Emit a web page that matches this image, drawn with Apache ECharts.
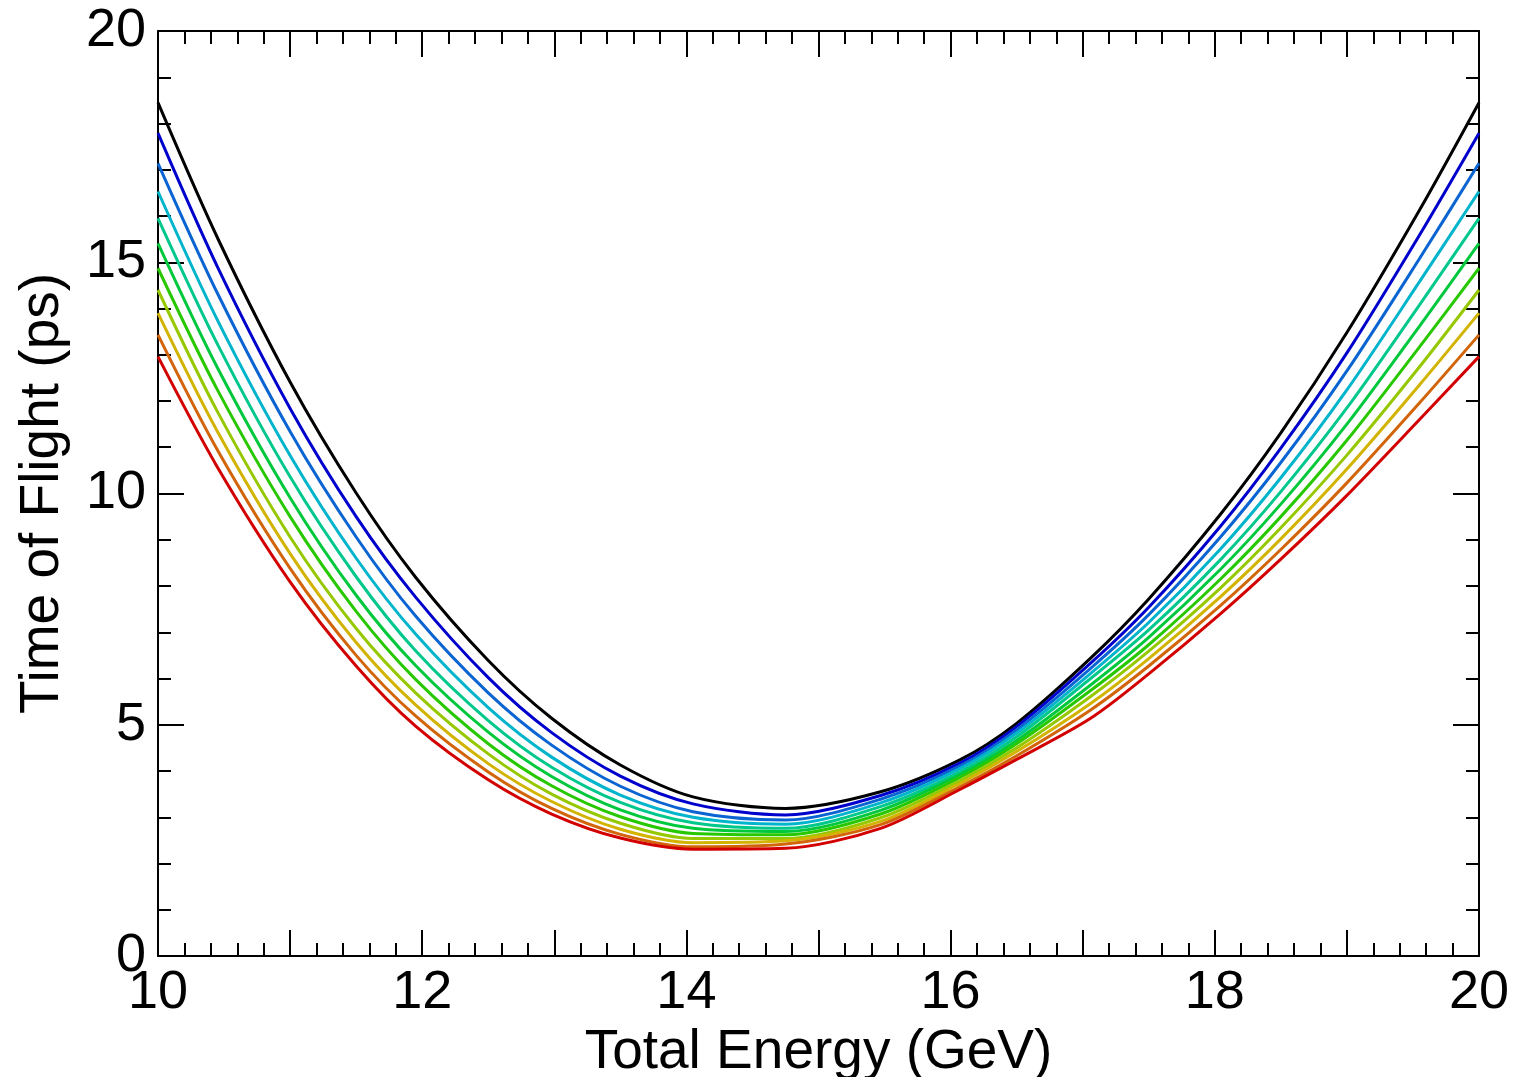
<!DOCTYPE html>
<html>
<head>
<meta charset="UTF-8">
<title>Time of Flight</title>
<script src="https://cdn.jsdelivr.net/npm/echarts@6/dist/echarts.min.js"></script>
<style>
  html, body { margin: 0; padding: 0; background: #fff; }
</style>
</head>
<body>
<div id="main" style="width: 1515px;height:1077px;"></div>
<script type="text/javascript">
var energy = [10, 10.45, 11, 11.5, 11.95, 12.5, 12.98, 13.5, 14.05, 14.75, 15.47, 16.07, 16.5, 17.06, 17.5, 18.04, 18.5, 19, 19.55, 20];

// time of flight (ps), one list per curve, top (black) to bottom (red)
var tofBlack  = [18.45, 15.53, 12.41, 10.01, 8.19, 6.39, 5.14, 4.13, 3.44, 3.19, 3.55, 4.24, 5.03, 6.44, 7.72, 9.54, 11.31, 13.48, 16.13, 18.45];
var tofBlue   = [17.79, 14.90, 11.84,  9.50, 7.76, 6.02, 4.83, 3.89, 3.29, 3.05, 3.47, 4.17, 4.96, 6.33, 7.54, 9.28, 10.98, 13.04, 15.59, 17.79];
var tofAzure  = [17.14, 14.33, 11.34,  9.06, 7.35, 5.69, 4.56, 3.67, 3.12, 2.94, 3.39, 4.11, 4.89, 6.22, 7.38, 9.05, 10.67, 12.65, 15.08, 17.14];
var tofCyan   = [16.53, 13.75, 10.82,  8.60, 6.96, 5.37, 4.30, 3.48, 3.00, 2.85, 3.31, 4.05, 4.82, 6.11, 7.21, 8.79, 10.34, 12.24, 14.58, 16.53];
var tofTeal   = [15.95, 13.23, 10.36,  8.20, 6.60, 5.09, 4.08, 3.32, 2.88, 2.76, 3.23, 3.98, 4.74, 6.00, 7.05, 8.56, 10.04, 11.85, 14.08, 15.95];
var tofGreen  = [15.41, 12.72,  9.91,  7.80, 6.28, 4.84, 3.88, 3.16, 2.76, 2.69, 3.15, 3.92, 4.66, 5.86, 6.89, 8.35,  9.77, 11.50, 13.62, 15.41];
var tofLime   = [14.87, 12.24,  9.50,  7.45, 5.98, 4.59, 3.68, 3.01, 2.65, 2.62, 3.07, 3.86, 4.59, 5.74, 6.73, 8.14,  9.50, 11.15, 13.17, 14.87];
var tofOlive  = [14.40, 11.77,  9.06,  7.08, 5.69, 4.37, 3.50, 2.87, 2.54, 2.54, 2.99, 3.79, 4.50, 5.61, 6.59, 7.95,  9.26, 10.83, 12.74, 14.40];
var tofYellow = [13.90, 11.34,  8.70,  6.78, 5.43, 4.16, 3.34, 2.74, 2.45, 2.49, 2.91, 3.73, 4.42, 5.46, 6.43, 7.76,  9.02, 10.53, 12.35, 13.90];
var tofOrange = [13.43, 10.94,  8.38,  6.50, 5.19, 3.98, 3.19, 2.63, 2.36, 2.42, 2.84, 3.66, 4.33, 5.32, 6.27, 7.57,  8.79, 10.23, 11.96, 13.43];
var tofRed    = [12.96, 10.57,  8.09,  6.27, 4.97, 3.81, 3.07, 2.55, 2.31, 2.33, 2.76, 3.60, 4.25, 5.14, 6.10, 7.39,  8.58,  9.96, 11.60, 12.96];

var curves = [tofBlack, tofBlue, tofAzure, tofCyan, tofTeal, tofGreen, tofLime, tofOlive, tofYellow, tofOrange, tofRed];
var colors = ['#000000', '#0000cc', '#0a64d2', '#00b4cc', '#00c88c', '#00c83c', '#28c800', '#96c800', '#d2b400', '#d2640a', '#d20000'];

var fontName = 'Liberation Sans, Arial, sans-serif';
var black = '#000';

function pairs(ys) {
    return energy.map(function (x, i) { return [x, ys[i]]; });
}

function boxAxis(pos, min, max, interval, isX, labelled) {
    return {
        type: 'value',
        position: pos,
        min: min,
        max: max,
        interval: interval,
        splitLine: { show: false },
        axisLine: { show: true, onZero: false, lineStyle: { color: black, width: 2 } },
        axisTick: { show: true, inside: true, length: 26, lineStyle: { color: black, width: 2 } },
        minorTick: { show: true, splitNumber: 5, length: 13, lineStyle: { color: black, width: 2 } },
        minorSplitLine: { show: false },
        axisLabel: {
            show: labelled,
            color: black,
            fontSize: 54,
            fontFamily: fontName,
            margin: isX ? 10 : 12,
            showMinLabel: true,
            showMaxLabel: true,
            formatter: isX ? function (v) { return v % 2 === 0 ? String(v) : ''; } : null
        }
    };
}

var myChart = echarts.init(document.getElementById('main'), null, { renderer: 'canvas' });

var xBottom = boxAxis('bottom', 10, 20, 1, true, true);
xBottom.name = 'Total Energy (GeV)';
xBottom.nameLocation = 'middle';
xBottom.nameGap = 58;
xBottom.nameTextStyle = { color: black, fontSize: 55, fontFamily: fontName };

var yLeft = boxAxis('left', 0, 20, 5, false, true);
yLeft.name = 'Time of Flight (ps)';
yLeft.nameLocation = 'middle';
yLeft.nameGap = 88;
yLeft.nameTextStyle = { color: black, fontSize: 55, fontFamily: fontName };

var option = {
    animation: false,
    backgroundColor: '#fff',
    grid: { left: 158, top: 31, width: 1321, height: 925, containLabel: false, outerBoundsMode: 'none' },
    xAxis: [xBottom, boxAxis('top', 10, 20, 1, true, false)],
    yAxis: [yLeft, boxAxis('right', 0, 20, 5, false, false)],
    series: curves.map(function (ys, i) {
        return {
            type: 'line',
            xAxisIndex: 0,
            yAxisIndex: 0,
            data: pairs(ys),
            smooth: 0.3,
            smoothConstraint: false,
            showSymbol: false,
            silent: true,
            lineStyle: { color: colors[i], width: 3 },
            itemStyle: { color: colors[i] }
        };
    })
};

myChart.setOption(option);
</script>
</body>
</html>
